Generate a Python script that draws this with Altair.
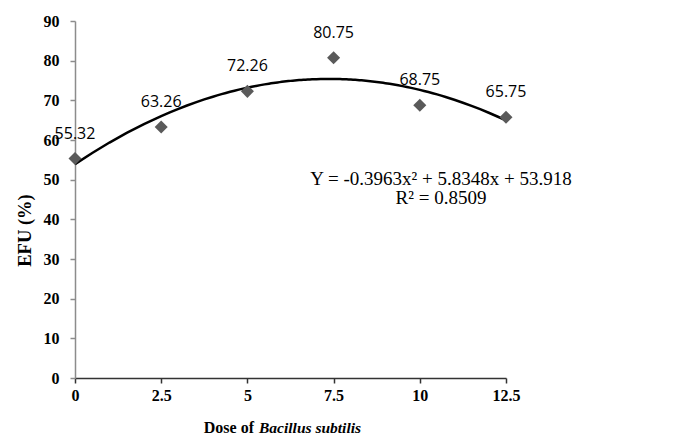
import altair as alt
import pandas as pd

# Dose of Bacillus subtilis and the measured EFU (%)
doses = [0, 2.5, 5, 7.5, 10, 12.5]
efu = [55.32, 63.26, 72.26, 80.75, 68.75, 65.75]
x_ticks = [0, 2.5, 5, 7.5, 10, 12.5]
y_ticks = [0, 10, 20, 30, 40, 50, 60, 70, 80, 90]

df = pd.DataFrame({"dose": doses, "efu": efu})
df["label"] = [f"{v:.2f}" for v in efu]

W, H = 431, 357

x_enc = alt.X(
    "dose:Q",
    scale=alt.Scale(domain=[0, 12.5], nice=False, zero=False),
    axis=alt.Axis(
        values=x_ticks, title=None, grid=False,
        domainColor="#333333", domainWidth=1.5,
        tickColor="#333333", tickSize=5, tickWidth=1.5,
        labelFont="Liberation Serif", labelFontWeight="bold", labelFontSize=16,
        labelColor="black", labelPadding=4, labelFlush=False,
        labelExpr="datum.value",
    ),
)
y_enc = alt.Y(
    "efu:Q",
    scale=alt.Scale(domain=[0, 90], nice=False),
    axis=alt.Axis(
        values=y_ticks, title="EFU (%)", grid=False,
        domainColor="#8c8c8c", domainWidth=1.5,
        tickColor="#8c8c8c", tickSize=5, tickWidth=1.5,
        labelFont="Liberation Serif", labelFontWeight="bold", labelFontSize=16,
        labelColor="black", labelPadding=11, labelFlush=False,
        titleFont="Liberation Serif", titleFontWeight="bold", titleFontSize=18.5,
        titleColor="black", titlePadding=9, titleY=209,
    ),
)

base = alt.Chart(df)

# second-order polynomial trendline fitted to the observations
trend = base.transform_regression(
    "dose", "efu", method="poly", order=2
).mark_line(color="black", strokeWidth=2.5).encode(x=x_enc, y=y_enc)

points = base.mark_point(
    shape="diamond", filled=True, size=170, color="#5a5a5a", opacity=1
).encode(x=x_enc, y=y_enc)

labels = base.mark_text(
    font="Open Sans", fontSize=16, color="black", dy=-25, baseline="middle"
).encode(x=x_enc, y=y_enc, text="label:N")

eq_text = alt.Chart(pd.DataFrame({"t": ["Y = -0.3963x² + 5.8348x + 53.918"]})).mark_text(
    font="Liberation Serif", fontSize=19, color="black", align="center", baseline="middle"
).encode(x=alt.value(366), y=alt.value(158), text="t:N")

r2_text = alt.Chart(pd.DataFrame({"t": ["R² = 0.8509"]})).mark_text(
    font="Liberation Serif", fontSize=19, color="black", align="center", baseline="middle"
).encode(x=alt.value(366), y=alt.value(177), text="t:N")

xt1 = alt.Chart(pd.DataFrame({"t": ["Dose of"]})).mark_text(
    font="Liberation Serif", fontSize=16, fontWeight="bold", color="black",
    align="right", baseline="middle"
).encode(x=alt.value(179), y=alt.value(407), text="t:N")

xt2 = alt.Chart(pd.DataFrame({"t": ["Bacillus subtilis"]})).mark_text(
    font="Liberation Serif", fontSize=15.5, fontWeight="bold", fontStyle="italic",
    color="black", align="left", baseline="middle"
).encode(x=alt.value(184), y=alt.value(407), text="t:N")

chart = alt.layer(trend, points, labels, eq_text, r2_text, xt1, xt2).properties(
    width=W, height=H,
    autosize=alt.AutoSizeParams(type="none"),
    padding={"left": 75, "top": 21, "right": 169, "bottom": 58},
    background="white",
).configure_view(stroke=None)

chart.save("out.html", embed_options={"renderer": "svg", "actions": False})
